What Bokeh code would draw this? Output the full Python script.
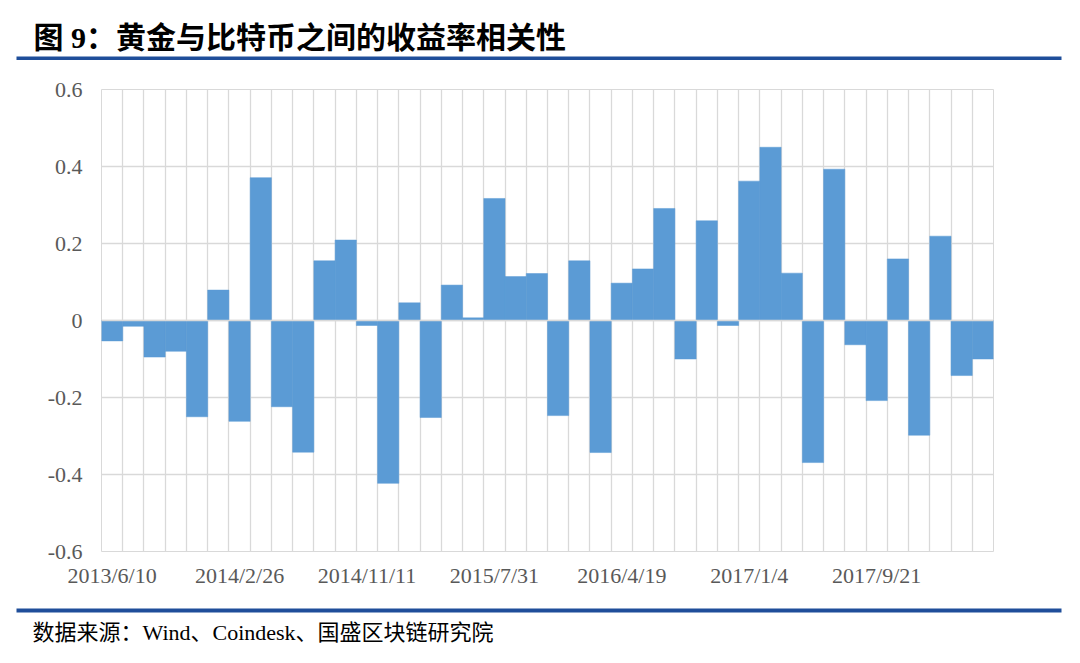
from bokeh.plotting import figure
from bokeh.layouts import column
from bokeh.models import FixedTicker, Label, BoxAnnotation, Span, ColumnDataSource
from bokeh.embed import file_html
from bokeh.resources import INLINE

# ---- data ----
title_text = "图 9：黄金与比特币之间的收益率相关性"
source_text = "数据来源：Wind、Coindesk、国盛区块链研究院"

correlation = [
    -0.053, -0.015, -0.095, -0.080, -0.250, 0.079, -0.262, 0.371, -0.224, -0.342,
    0.155, 0.209, -0.013, -0.423, 0.046, -0.252, 0.092, 0.007, 0.317, 0.114,
    0.122, -0.247, 0.155, -0.343, 0.097, 0.134, 0.291, -0.100, 0.259, -0.013,
    0.362, 0.450, 0.123, -0.369, 0.393, -0.063, -0.208, 0.160, -0.298, 0.219,
    -0.143, -0.100,
]
tick_labels = ["2013/6/10", "2014/2/26", "2014/11/11", "2015/7/31",
               "2016/4/19", "2017/1/4", "2017/9/21"]
tick_every = 6
y_ticks = [-0.6, -0.4, -0.2, 0.0, 0.2, 0.4, 0.6]
y_tick_labels = ["-0.6", "-0.4", "-0.2", "0", "0.2", "0.4", "0.6"]

n = len(correlation)
xs = list(range(n))
src = ColumnDataSource(dict(x=xs, v=correlation))

BAR = "#5B9BD5"
GRID = "#D9D9D9"
NAVY = "#1F4E9A"
SERIF = "Liberation Serif, Noto Sans CJK SC"
W = 1064


def blank(height):
    f = figure(width=W, height=height, output_backend="svg", toolbar_location=None,
               x_axis_type=None, y_axis_type=None, min_border=0,
               x_range=(0, 1), y_range=(0, 1), frame_align=False)
    f.title.visible = False
    f.outline_line_color = None
    f.grid.visible = False
    f.background_fill_color = "white"
    f.border_fill_color = "white"
    return f


# header: title and rule
header = blank(70)
header.add_layout(Label(x=33, y=33, x_units="screen", y_units="screen", text=title_text,
                        text_font=SERIF, text_font_style="bold", text_font_size="30px",
                        text_color="black", text_baseline="middle"))
header.add_layout(BoxAnnotation(left=16, right=1061, top=14, bottom=10.5,
                                left_units="screen", right_units="screen",
                                top_units="screen", bottom_units="screen",
                                fill_color=NAVY, fill_alpha=1, line_color=None))

# main chart
p = figure(width=W, height=531, output_backend="svg", toolbar_location=None,
           x_range=(-0.5, n - 0.5), y_range=(y_ticks[0], y_ticks[-1]),
           min_border_left=101, min_border_right=W - 101 - 892, min_border_top=19,
           min_border_bottom=50, frame_align=False)
p.title.visible = False
p.background_fill_color = "white"
p.border_fill_color = "white"
p.outline_line_color = GRID

p.xgrid.ticker = FixedTicker(ticks=[i - 0.5 for i in range(n + 1)])
p.ygrid.ticker = FixedTicker(ticks=y_ticks)
p.grid.grid_line_color = GRID
p.grid.grid_line_width = 1.3

p.vbar(x="x", top="v", bottom=0, width=1.0, source=src,
       fill_color=BAR, line_color=BAR, line_width=0.5)

p.add_layout(Span(location=0, dimension="width", line_color=GRID, line_width=1.5))

p.xaxis.ticker = FixedTicker(ticks=xs[::tick_every])
p.xaxis.major_label_overrides = {i: lbl for i, lbl in zip(xs[::tick_every], tick_labels)}
p.yaxis.ticker = FixedTicker(ticks=y_ticks)
p.yaxis.major_label_overrides = {t: l for t, l in zip(y_ticks, y_tick_labels)}
for ax in (p.xaxis, p.yaxis):
    ax.axis_line_color = None
    ax.major_tick_line_color = None
    ax.minor_tick_line_color = None
    ax.major_label_text_font = "Liberation Serif"
    ax.major_label_text_font_size = "22px"
    ax.major_label_text_color = "#595959"
p.xaxis.major_label_standoff = 5
p.yaxis.major_label_standoff = 13

# footer: rule and source
footer = blank(46)
footer.add_layout(BoxAnnotation(left=16, right=1061, top=39, bottom=35,
                                left_units="screen", right_units="screen",
                                top_units="screen", bottom_units="screen",
                                fill_color=NAVY, fill_alpha=1, line_color=None))
footer.add_layout(Label(x=32, y=15, x_units="screen", y_units="screen", text=source_text,
                        text_font=SERIF, text_font_size="22px",
                        text_color="black", text_baseline="middle"))

layout = column(header, p, footer, spacing=0)
open("out.html", "w").write(file_html(layout, INLINE))
